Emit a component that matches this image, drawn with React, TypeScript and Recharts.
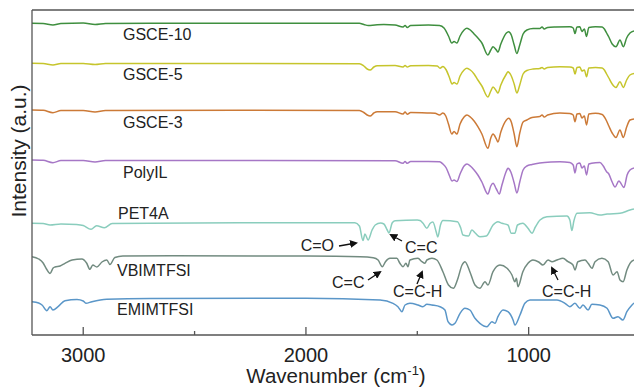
import { LineChart, Line, XAxis, YAxis, ReferenceLine } from "recharts"

// FTIR spectra, [wavenumber (cm-1), intensity (a.u., stacked)]
const gsce10: [number, number][] = [
  [3230, 311.7], [3180, 311.5], [3136, 310], [3100, 311.5], [3000, 312], [2947, 310.5],
  [2900, 311.5], [2700, 311.7], [2300, 311.8], [1760, 311.7], [1740, 310.5], [1720, 309.5],
  [1690, 310], [1650, 310.5], [1600, 310], [1564, 308], [1555, 309.5], [1545, 307.5],
  [1530, 309.5], [1450, 310], [1400, 309.5], [1380, 307], [1360, 299], [1345, 292],
  [1335, 293.5], [1322, 292], [1308, 299], [1290, 305], [1277, 306.7], [1262, 305],
  [1245, 301], [1228, 297], [1210, 292], [1183, 280], [1170, 285], [1160, 288.3],
  [1145, 285], [1138, 283], [1125, 291], [1100, 302], [1090, 303.3], [1078, 300],
  [1065, 290], [1053, 281.5], [1040, 290], [1025, 301], [1008, 305], [980, 306.5],
  [950, 306.5], [940, 308], [930, 306], [915, 307.5], [880, 308], [815, 308.3],
  [800, 307], [792, 301.5], [783, 308], [770, 308.3], [761, 303.5], [750, 306],
  [740, 298.5], [730, 307.5], [700, 308.3], [670, 308], [660, 306], [650, 302],
  [640, 298], [625, 291], [608, 288.3], [590, 295], [575, 288.3], [560, 297],
  [545, 302], [527, 304],
]

const gsce5: [number, number][] = [
  [3230, 271.7], [3180, 271.5], [3136, 270], [3100, 271.5], [3000, 271.5], [2947, 270.5],
  [2900, 271.5], [2300, 271.5], [1760, 271.3], [1740, 269], [1725, 266], [1712, 265],
  [1695, 268], [1680, 269.3], [1600, 269.5], [1564, 268], [1555, 269.5], [1545, 268],
  [1530, 269.3], [1450, 269.5], [1410, 269], [1398, 266.7], [1385, 268.5], [1370, 265],
  [1355, 257], [1344, 251], [1335, 252.5], [1322, 251], [1308, 259], [1290, 265],
  [1277, 266.7], [1262, 265], [1245, 261], [1228, 255], [1210, 249], [1183, 238],
  [1170, 244], [1160, 248], [1145, 244], [1138, 242], [1125, 250], [1100, 261],
  [1093, 263.3], [1080, 260], [1065, 251], [1053, 242], [1040, 250], [1025, 261],
  [1008, 264.5], [980, 266], [950, 266.5], [940, 267.5], [930, 266], [915, 267.5],
  [860, 268.3], [815, 268], [800, 267], [792, 261], [783, 267.5], [770, 268],
  [761, 264], [750, 265], [740, 258.3], [730, 267], [700, 267.5], [670, 267],
  [660, 265], [650, 261], [640, 257], [625, 251], [608, 247.5], [590, 253.3],
  [575, 247.5], [560, 255], [545, 260], [527, 261.5],
]

const gsce3: [number, number][] = [
  [3230, 225], [3180, 224.7], [3136, 222.3], [3100, 224.5], [3000, 224.5], [2947, 223],
  [2900, 224.5], [2300, 224.7], [1760, 224.5], [1740, 222.5], [1725, 220], [1712, 219],
  [1695, 222], [1680, 223.3], [1600, 223.3], [1564, 221], [1555, 223], [1545, 220.7],
  [1530, 222.5], [1450, 222], [1420, 221.7], [1400, 220], [1385, 222], [1372, 219],
  [1360, 211], [1345, 201], [1335, 203.5], [1322, 201], [1308, 211], [1290, 218],
  [1277, 220], [1262, 218], [1245, 214], [1228, 208.3], [1210, 201], [1183, 186.7],
  [1170, 197], [1160, 201], [1145, 196], [1138, 193], [1125, 203], [1100, 215],
  [1090, 216.7], [1078, 213], [1065, 201], [1053, 188.3], [1040, 202], [1025, 213],
  [1008, 215], [985, 217.5], [950, 218.5], [940, 220], [930, 218], [915, 220],
  [860, 222], [815, 221.5], [800, 220], [792, 213.3], [783, 221], [770, 221.5],
  [761, 217], [750, 219], [740, 210], [730, 221], [700, 221.7], [670, 220.5],
  [660, 218], [650, 214], [640, 209], [625, 202], [608, 197.5], [590, 205],
  [575, 197.5], [560, 208], [545, 215], [527, 216],
]

const polyIL: [number, number][] = [
  [3230, 175], [3180, 174.7], [3136, 172.3], [3100, 174.5], [3000, 174.5], [2947, 173],
  [2900, 174.5], [2300, 174.5], [1600, 174.3], [1564, 171.7], [1555, 173.5], [1545, 171.7],
  [1530, 173.5], [1450, 173.5], [1400, 173.3], [1385, 171], [1370, 167], [1355, 159],
  [1344, 154], [1335, 155], [1322, 153.5], [1308, 161], [1290, 169], [1277, 171],
  [1262, 169], [1245, 165], [1228, 160], [1210, 153], [1183, 141], [1170, 149],
  [1160, 151.7], [1145, 146], [1132, 141], [1120, 150], [1100, 164], [1093, 166.7],
  [1080, 163], [1065, 152], [1053, 142], [1040, 153], [1025, 165], [1008, 169],
  [985, 170.5], [950, 172], [900, 173], [860, 173.3], [815, 172.5], [800, 170],
  [792, 162], [783, 171], [770, 172], [761, 167], [750, 169], [740, 160],
  [730, 171], [700, 172.3], [680, 172.5], [665, 169], [650, 163.3], [640, 161],
  [625, 153], [612, 148], [595, 154], [572, 147.5], [558, 160], [545, 165], [527, 167],
]

const pet4a: [number, number][] = [
  [3230, 111.7], [3180, 111.5], [3149, 110], [3100, 111], [3030, 110.5], [3000, 109.5],
  [2965, 105.7], [2940, 109.3], [2905, 107.3], [2870, 111.5], [2700, 111.7], [2300, 112.2],
  [1780, 112.3], [1760, 109], [1744, 94.5], [1735, 101], [1721, 95], [1703, 105],
  [1689, 110], [1665, 112], [1650, 111], [1635, 105], [1627, 102], [1613, 112],
  [1600, 114.3], [1500, 115], [1488, 114.5], [1475, 112], [1457, 106.7], [1443, 111.5],
  [1430, 113], [1415, 103], [1408, 98], [1396, 110], [1385, 114.5], [1320, 113.3],
  [1305, 107], [1295, 100], [1270, 99], [1255, 105], [1240, 102], [1219, 98.3],
  [1190, 99], [1160, 110], [1138, 113.3], [1120, 111.7], [1093, 110], [1078, 101.7],
  [1062, 101.7], [1050, 110], [1026, 111.7], [1003, 106.7], [985, 101.7], [970, 108],
  [949, 115], [918, 118.3], [828, 119], [815, 115], [806, 104.5], [797, 114],
  [783, 121.7], [725, 122.3], [680, 120], [648, 121], [590, 121.7], [545, 125], [527, 126],
]

const vbimtfsi: [number, number][] = [
  [3230, 78.3], [3200, 76], [3180, 72], [3165, 66], [3149, 61.5], [3135, 67],
  [3127, 68], [3104, 69], [3082, 71.7], [3050, 75], [3006, 76], [2985, 72],
  [2970, 65.7], [2957, 70], [2939, 68], [2916, 73], [2894, 75], [2880, 70.5],
  [2858, 77.5], [2822, 79], [2600, 79.3], [2000, 79], [1757, 78.3], [1698, 77.3],
  [1676, 75], [1657, 68.3], [1643, 73.3], [1623, 76.7], [1592, 76.7], [1578, 71.7],
  [1564, 68.3], [1551, 71.7], [1542, 68.3], [1533, 75], [1497, 76.7], [1479, 73.3],
  [1466, 71.7], [1457, 75], [1434, 76.7], [1412, 75], [1385, 63.3], [1360, 50],
  [1338, 46.7], [1320, 55], [1299, 70], [1286, 73.3], [1264, 63.3], [1241, 50],
  [1219, 46.7], [1196, 53.3], [1183, 50], [1160, 63.3], [1129, 70], [1097, 66.7],
  [1075, 60], [1062, 53.3], [1055, 56.7], [1048, 48.3], [1026, 63.3], [1003, 71.7],
  [981, 75], [955, 73], [936, 70], [913, 75], [895, 73.3], [873, 75],
  [846, 76.7], [823, 73.3], [801, 70], [792, 65], [779, 73.3], [747, 75],
  [733, 71.7], [716, 66.7], [702, 73.3], [671, 76.7], [643, 73.3], [621, 60],
  [603, 63.3], [590, 55], [576, 53.3], [559, 65], [545, 71.7], [527, 75],
]

const emimtfsi: [number, number][] = [
  [3230, 33.3], [3200, 32], [3185, 30], [3163, 24.3], [3149, 28.3], [3136, 25],
  [3113, 28.3], [3082, 34.3], [3028, 35.5], [3000, 34], [2988, 31.7], [2961, 33.3],
  [2894, 35.7], [2700, 36.5], [2000, 36.7], [1667, 35], [1609, 31.7], [1587, 28.3],
  [1569, 23.3], [1555, 30], [1533, 31.7], [1497, 30], [1475, 28.3], [1457, 30.7],
  [1434, 30], [1398, 28.3], [1376, 25], [1362, 13.3], [1344, 10], [1331, 11.7],
  [1308, 21.7], [1286, 26.7], [1264, 25], [1241, 16.7], [1219, 11.7], [1187, 8.3],
  [1165, 13.3], [1151, 11.7], [1138, 18.3], [1115, 25], [1093, 23.3], [1070, 15],
  [1062, 10], [1039, 20], [1017, 31.7], [994, 35], [918, 35], [873, 35],
  [837, 31.7], [815, 28.3], [792, 31.7], [770, 26.7], [756, 30], [733, 25],
  [716, 30.7], [680, 30], [648, 26.7], [621, 16.7], [599, 18.3], [577, 15],
  [559, 23.3], [536, 30], [527, 32],
]

const seriesNames = ["GSCE-10", "GSCE-5", "GSCE-3", "PolyIL", "PET4A", "VBIMTFSI", "EMIMTFSI"]
const seriesData = [gsce10, gsce5, gsce3, polyIL, pet4a, vbimtfsi, emimtfsi]
const seriesColors = ["#3f8f3f", "#c6c52c", "#cc7a37", "#a677c6", "#8acdbd", "#728b80", "#5a96c8"]

const majorTicks = [1000, 2000, 3000]
const allTicks = [1000, 1500, 2000, 2500, 3000]

// label placement (px): x, baseline y
const labelPos = [
  [123, 40], [123, 80], [123, 128], [123, 178], [118, 219], [117, 276], [117, 315],
]

const annotations = [
  { text: "C=O", x: 334, y: 251, anchor: "end", arrow: [339, 246, 356, 243] },
  { text: "C=C", x: 405, y: 253, anchor: "start", arrow: [402, 241, 391, 235] },
  { text: "C=C", x: 332, y: 288, anchor: "start", arrow: [368, 280, 380, 272] },
  { text: "C=C-H", x: 393, y: 297, anchor: "start", arrow: [417, 284, 422, 272] },
  { text: "C=C-H", x: 542, y: 297, anchor: "start", arrow: [558, 280, 552, 268] },
]

const axisColor = "#555"
const textColor = "#222"
const font = "'Liberation Sans', Arial, sans-serif"

function WnTick(props: any) {
  const { x, y, payload } = props
  const major = majorTicks.includes(payload.value)
  return (
    <g>
      <line x1={x} x2={x} y1={y} y2={y - (major ? 8 : 4)} stroke={axisColor} strokeWidth={1.3} />
      {major && (
        <text x={x} y={y + 26.5} textAnchor="middle" fontSize={20} fill={textColor} fontFamily={font}>
          {payload.value}
        </text>
      )}
    </g>
  )
}

export default function App() {
  return (
    <div style={{ position: "absolute", left: 0, top: 0, width: 634, height: 387, background: "#fff" }}>
      <LineChart width={634} height={387} margin={{ top: 10, right: 0, bottom: 0, left: 0 }}>
        <defs>
          <marker id="arrowHead" markerWidth="8" markerHeight="8" refX="6" refY="4" orient="auto" markerUnits="userSpaceOnUse">
            <path d="M0,0 L8,4 L0,8 z" fill="#111" />
          </marker>
        </defs>
        <XAxis
          type="number"
          dataKey="wn"
          domain={[527, 3230]}
          reversed
          allowDataOverflow
          ticks={allTicks}
          interval={0}
          tickLine={false}
          tickSize={0}
          tickMargin={0}
          tick={<WnTick />}
          height={52}
          axisLine={{ stroke: axisColor, strokeWidth: 1.3 }}
        />
        <YAxis
          type="number"
          domain={[0, 325]}
          allowDataOverflow
          tick={false}
          tickLine={false}
          width={32}
          axisLine={{ stroke: axisColor, strokeWidth: 1.3 }}
        />
        <ReferenceLine y={325} stroke={axisColor} strokeWidth={1.3} />
        {seriesData.map((d, i) => (
          <Line
            key={seriesNames[i]}
            data={d.map(([wn, v]) => ({ wn, v }))}
            dataKey="v"
            type="monotone"
            stroke={seriesColors[i]}
            strokeWidth={1.5}
            dot={false}
            isAnimationActive={false}
            name={seriesNames[i]}
          />
        ))}
        {seriesNames.map((n, i) => (
          <text key={n} x={labelPos[i][0]} y={labelPos[i][1]} fontSize={16} fill={textColor} fontFamily={font}>
            {n}
          </text>
        ))}
        {annotations.map((a, i) => (
          <g key={i}>
            <text x={a.x} y={a.y} textAnchor={a.anchor as any} fontSize={16} fill={textColor} fontFamily={font}>
              {a.text}
            </text>
            <line x1={a.arrow[0]} y1={a.arrow[1]} x2={a.arrow[2]} y2={a.arrow[3]} stroke="#111" strokeWidth={1.3} markerEnd="url(#arrowHead)" />
          </g>
        ))}
        <text x={26} y={151} transform="rotate(-90 26 151)" textAnchor="middle" fontSize={21} fill={textColor} fontFamily={font}>
          Intensity (a.u.)
        </text>
        <text x={336} y={383} textAnchor="middle" fontSize={20.5} fill={textColor} fontFamily={font}>
          Wavenumber (cm<tspan dy={-8} fontSize={13}>-1</tspan><tspan dy={8}>)</tspan>
        </text>
      </LineChart>
    </div>
  )
}
